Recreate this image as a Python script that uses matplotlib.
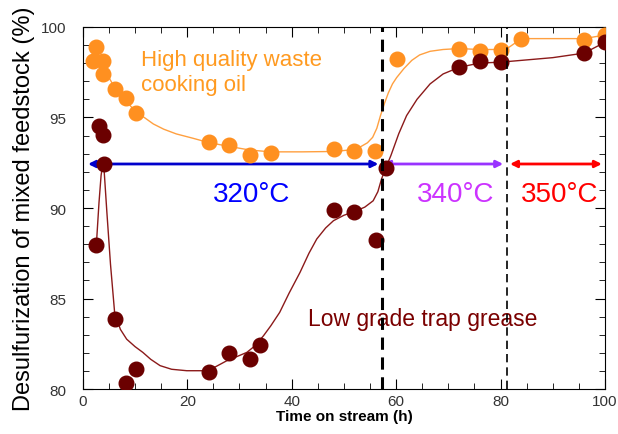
import matplotlib as mpl
mpl.use('Agg')
from matplotlib import pyplot as plt
from matplotlib.ticker import MultipleLocator

plt.rcParams['font.family'] = ['Liberation Sans Narrow', 'Liberation Sans', 'DejaVu Sans']

# high quality waste cooking oil - measured points
oil_t = [2.0, 2.6, 3.9, 3.9, 6.1, 8.2, 10.2, 24.1, 28.0, 32.1, 36.0, 48.1,
         51.9, 55.9, 60.1, 72.1, 76.1, 80.0, 84.0, 96.0, 100.0]
oil_y = [98.14, 98.88, 98.14, 97.4, 96.57, 96.06, 95.25, 93.63, 93.5, 92.93,
         93.04, 93.26, 93.13, 93.17, 98.23, 98.78, 98.69, 98.73, 99.34, 99.3, 99.56]

# trend line for the oil
oil_fit_t = [2.0, 3.0, 4.0, 6.0, 8.0, 10.0, 12.0, 13.5, 15.5, 17.9, 21.1, 24.0,
             28.0, 32.0, 36.0, 42.0, 48.0, 51.0, 53.0, 54.5, 55.5, 56.3, 57.0,
             57.8, 58.5, 59.3, 60.1, 61.5, 63.0, 64.5, 66.5, 69.0, 72.0, 76.0,
             80.0, 81.5, 83.0, 84.0, 96.0, 100.0]
oil_fit_y = [98.9, 98.4, 97.7, 96.7, 96.0, 95.35, 94.95, 94.64, 94.35, 94.09,
             93.85, 93.62, 93.4, 93.2, 93.1, 93.1, 93.12, 93.2, 93.35, 93.6,
             93.9, 94.4, 95.1, 95.8, 96.35, 96.85, 97.2, 97.7, 98.15, 98.45,
             98.65, 98.75, 98.8, 98.75, 98.75, 98.85, 99.15, 99.35, 99.35, 99.55]

# low grade trap grease - measured points
grease_t = [2.6, 3.1, 3.9, 4.1, 6.1, 8.2, 10.2, 24.1, 28.0, 32.1, 34.0, 48.1,
            51.9, 56.1, 58.0, 72.1, 76.1, 80.0, 96.0, 100.0]
grease_y = [87.96, 94.55, 94.03, 92.43, 83.9, 80.33, 81.14, 80.96, 81.99, 81.66,
            82.43, 89.91, 89.76, 88.25, 92.19, 97.77, 98.14, 98.08, 98.56, 99.15]

# trend line for the grease
grease_fit_t = [2.6, 3.1, 3.5, 3.8, 4.1, 4.6, 5.3, 6.1, 7.2, 8.4, 10.0, 11.5,
                13.0, 14.8, 17.0, 19.9, 23.6, 25.5, 27.5, 29.5, 31.4, 33.0,
                34.6, 36.0, 37.7, 39.5, 41.6, 43.3, 44.8, 46.5, 48.0, 50.0,
                52.0, 54.0, 55.6, 56.5, 57.2, 58.0, 59.0, 60.5, 62.0, 64.0,
                66.5, 69.0, 72.1, 76.0, 80.0, 90.0, 96.0, 100.0]
grease_fit_y = [88.0, 90.3, 91.8, 92.4, 92.0, 89.8, 86.9, 84.2, 83.3, 82.76,
                82.35, 82.03, 81.65, 81.3, 81.1, 81.02, 81.02, 81.25, 81.56,
                81.8, 82.03, 82.4, 82.95, 83.5, 84.24, 85.3, 86.45, 87.5, 88.29,
                88.9, 89.3, 89.6, 89.8, 90.05, 90.4, 90.9, 91.6, 92.2, 92.9,
                94.1, 95.1, 96.0, 96.85, 97.4, 97.77, 98.0, 98.05, 98.3, 98.55, 99.15]

# temperature zones
zone_labels = ['320\u00b0C', '340\u00b0C', '350\u00b0C']
zone_start = [1.0, 57.5, 81.8]
zone_end = [56.6, 80.5, 99.4]
zone_text_x = [32.4, 71.3, 91.4]
zone_colors = ['#0000FF', '#CC33FF', '#FF0000']
arrow_colors = ['#0000CC', '#9933FF', '#FF0000']
arrow_y = 92.43

fig = plt.figure(figsize=(6.18, 4.35), dpi=100)
ax = fig.add_axes([0.134, 0.103, 0.845, 0.833])

ax.plot(oil_fit_t, oil_fit_y, '-', color='#FFA040', lw=1.0, zorder=2)
ax.plot(grease_fit_t, grease_fit_y, '-', color='#8B1A1A', lw=1.0, zorder=2)
ax.plot(oil_t, oil_y, 'o', color='#FF9020', ms=10.5, mec='#FF9020', zorder=3)
ax.plot(grease_t, grease_y, 'o', color='#6B0000', ms=10.5, mec='#6B0000', zorder=3)

ax.axvline(57.2, color='black', ls=(0, (4, 2.5)), lw=2.2, zorder=4)
ax.axvline(81.2, color='black', ls=(0, (5, 3)), lw=1.2, zorder=4)

for lab, x0, x1, tx, c, ac in zip(zone_labels, zone_start, zone_end,
                                  zone_text_x, zone_colors, arrow_colors):
    ax.annotate('', xy=(x0, arrow_y), xytext=(x1, arrow_y),
                arrowprops=dict(arrowstyle='<|-|>', color=ac, lw=2,
                                mutation_scale=10, shrinkA=0, shrinkB=0),
                zorder=1)
    ax.text(tx, 90.8, lab, color=c, fontsize=20, ha='center', va='center',
            family=['Liberation Sans', 'DejaVu Sans'])

ax.text(11.2, 98.8, 'High quality waste\ncooking oil', color='#FF9A20',
        fontsize=16, ha='left', va='top', linespacing=1.25,
        family=['Liberation Sans', 'DejaVu Sans'])
ax.text(43.1, 83.9, 'Low grade trap grease', color='#7A0000', fontsize=16.5,
        ha='left', va='center', family=['Liberation Sans', 'DejaVu Sans'])

ax.set_xlim(0, 100)
ax.set_ylim(80, 100)
ax.xaxis.set_major_locator(MultipleLocator(20))
ax.xaxis.set_minor_locator(MultipleLocator(5))
ax.yaxis.set_major_locator(MultipleLocator(5))
ax.yaxis.set_minor_locator(MultipleLocator(1))
ax.tick_params(which='both', direction='in', top=True, right=True,
               labelsize=11, labelcolor='#333333')
ax.tick_params(which='major', length=7)
ax.tick_params(which='minor', length=4)
ax.tick_params(axis='y', pad=12)

ax.set_xlabel('Time on stream (h)', fontsize=11, fontweight='bold', labelpad=1)
ax.set_ylabel('Desulfurization of mixed feedstock (%)', fontsize=17,
              family=['Liberation Sans', 'DejaVu Sans'], labelpad=4)

plt.savefig('out.png', dpi=100)
